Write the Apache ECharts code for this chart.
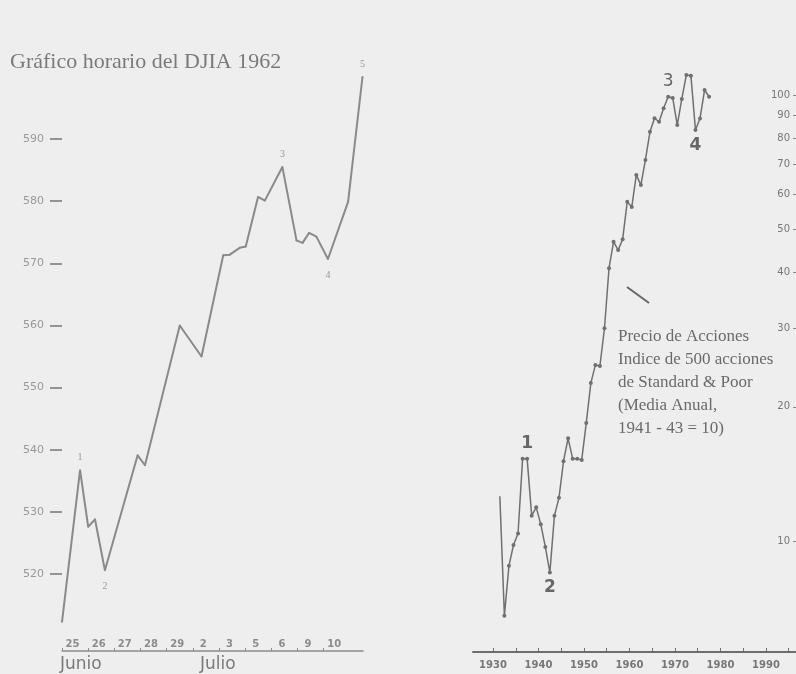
<!DOCTYPE html>
<html>
<head>
<meta charset="utf-8">
<script src="https://cdn.jsdelivr.net/npm/echarts@6/dist/echarts.min.js"></script>
<style>
  html, body { margin: 0; background: #eeeeee; }
  #chart { width: 796px; height: 674px; }
</style>
</head>
<body>
<div id="chart"></div>
<script>
// DJIA horario 1962: x en días de sesión desde el 25 de junio
const djiaX = [0, 0.69, 1.0, 1.26, 1.64, 2.89, 3.17, 4.5, 5.33, 6.16, 6.41, 6.79, 7.02, 7.49, 7.75, 8.42, 8.96, 9.19, 9.44, 9.72, 10.16, 10.93, 11.48];
const djiaY = [512.3, 536.7, 527.6, 528.8, 520.6, 539.1, 537.5, 560, 555, 571.3, 571.4, 572.5, 572.7, 580.7, 580.1, 585.5, 573.7, 573.3, 574.9, 574.3, 570.7, 579.9, 600];
const djiaWaves = { 1: '1', 4: '2', 15: '3', 20: '4', 22: '5' };
const dayLabels = ['25', '26', '27', '28', '29', '2', '3', '5', '6', '9', '10'];
const djiaTicks = [520, 530, 540, 550, 560, 570, 580, 590];

// S&P 500, media anual
const spYears = [1931, 1932, 1933, 1934, 1935, 1936, 1937, 1938, 1939, 1940, 1941, 1942, 1943, 1944, 1945, 1946, 1947, 1948, 1949, 1950, 1951, 1952, 1953, 1954, 1955, 1956, 1957, 1958, 1959, 1960, 1961, 1962, 1963, 1964, 1965, 1966, 1967, 1968, 1969, 1970, 1971, 1972, 1973, 1974, 1975, 1976, 1977];
const spValues = [12.6, 6.8, 8.8, 9.8, 10.4, 15.3, 15.3, 11.4, 11.9, 10.9, 9.7, 8.5, 11.4, 12.5, 15.1, 17.0, 15.3, 15.3, 15.2, 18.4, 22.6, 24.8, 24.7, 30.0, 40.9, 46.9, 44.9, 47.5, 57.6, 56.1, 66.2, 62.8, 71.5, 82.7, 88.7, 87.1, 93.4, 99.1, 98.5, 85.6, 98.0, 110.9, 110.5, 83.5, 88.6, 102.6, 99.1];
const spWaves = { 1937: '1', 1942: '2', 1968: '3', 1974: '4' };
const spTicksY = [10, 20, 30, 40, 50, 60, 70, 80, 90, 100];
const spTicksX = [1930, 1940, 1950, 1960, 1970, 1980, 1990];
const spMinorX = [1930, 1935, 1940, 1945, 1950, 1955, 1960, 1965, 1970, 1975, 1980, 1985, 1990, 1995];

const dayPos = dayLabels.map((d, i) => i + 0.4);

const chart = echarts.init(document.getElementById('chart'));

const djiaData = djiaX.map((x, i) => {
  const item = { value: [x, djiaY[i]] };
  if (djiaWaves[i]) {
    const up = ['1', '3', '5'].includes(djiaWaves[i]);
    item.label = {
      show: true, formatter: djiaWaves[i], position: up ? 'top' : 'bottom',
      distance: up ? 7 : 10, fontSize: 10, color: '#999', fontFamily: 'Liberation Serif'
    };
  }
  return item;
});

const spData = spYears.map((y, i) => {
  const item = { value: [y + 0.5, spValues[i]] };
  if (i === 0) item.symbol = 'none';
  if (spWaves[y]) {
    const up = spWaves[y] === '1' || spWaves[y] === '3';
    item.label = {
      show: true, formatter: spWaves[y], position: up ? 'top' : 'bottom',
      distance: 5, fontSize: 17, fontWeight: spWaves[y] === '3' ? 'normal' : 'bold',
      color: '#666', fontFamily: 'DejaVu Sans'
    };
  }
  return item;
});

const option = {
  backgroundColor: '#eeeeee',
  animation: false,
  grid: [
    { left: 62, top: 77, width: 301, height: 574 },
    { left: 473, top: 60, right: 0, height: 592 }
  ],
  xAxis: [
    {
      gridIndex: 0, type: 'value', min: 0, max: 11.5,
      splitLine: { show: false },
      axisLine: { lineStyle: { color: '#8c8c8c', width: 1.5 } },
      axisTick: { inside: true, length: 3, customValues: dayLabels.map((d, i) => i), lineStyle: { color: '#8c8c8c' } },
      axisLabel: {
        inside: true, margin: 2, customValues: dayPos,
        formatter: v => dayLabels[Math.round(v - 0.4)],
        fontSize: 10, fontWeight: 'bold', color: '#8c8c8c', fontFamily: 'DejaVu Sans'
      }
    },
    {
      gridIndex: 1, type: 'value', min: 1925.6, max: 1996.6,
      splitLine: { show: false },
      axisLine: { lineStyle: { color: '#6e6e6e', width: 2 } },
      axisTick: { inside: true, length: 4, customValues: spMinorX, lineStyle: { color: '#6e6e6e' } },
      axisLabel: {
        customValues: spTicksX, margin: 8, formatter: v => String(v),
        fontSize: 10, fontWeight: 'bold', color: '#777', fontFamily: 'DejaVu Sans'
      }
    }
  ],
  yAxis: [
    {
      gridIndex: 0, type: 'value', min: 507.6, max: 600,
      splitLine: { show: false },
      axisLine: { show: false },
      axisTick: { length: 12, customValues: djiaTicks, lineStyle: { color: '#777', width: 1.5 } },
      axisLabel: {
        customValues: djiaTicks, margin: 18,
        fontSize: 11, color: '#999', fontFamily: 'DejaVu Sans'
      }
    },
    {
      gridIndex: 1, type: 'log', logBase: 10, min: 5.64, max: 119.8, position: 'right',
      splitLine: { show: false },
      axisLine: { show: false },
      axisTick: { inside: true, length: 3, customValues: spTicksY, lineStyle: { color: '#888' } },
      axisLabel: {
        inside: true, margin: 6, customValues: spTicksY,
        fontSize: 10, color: '#777', fontFamily: 'DejaVu Sans'
      }
    }
  ],
  series: [
    {
      type: 'line', xAxisIndex: 0, yAxisIndex: 0, data: djiaData,
      symbol: 'circle', symbolSize: 2,
      itemStyle: { color: '#8a8a8a' },
      lineStyle: { color: '#8a8a8a', width: 2 }
    },
    {
      type: 'line', xAxisIndex: 1, yAxisIndex: 1, data: spData,
      symbol: 'circle', symbolSize: 4, clip: false,
      itemStyle: { color: '#707070' },
      lineStyle: { color: '#707070', width: 1.5 }
    }
  ],
  graphic: [
    {
      type: 'text', left: 10, top: 51,
      style: { text: 'Gráfico horario del DJIA 1962', fontSize: 22, fontFamily: 'Liberation Serif', fill: '#7a7a7a' }
    },
    {
      type: 'text', left: 60, top: 656,
      style: { text: 'Junio', fontSize: 17, fontFamily: 'DejaVu Sans', fill: '#7a7a7a' }
    },
    {
      type: 'text', left: 200, top: 656,
      style: { text: 'Julio', fontSize: 17, fontFamily: 'DejaVu Sans', fill: '#7a7a7a' }
    },
    {
      type: 'line', shape: { x1: 627, y1: 287, x2: 649, y2: 303 },
      style: { stroke: '#666', lineWidth: 2 }
    },
    {
      type: 'text', left: 618, top: 325,
      style: {
        text: 'Precio de Acciones\nIndice de 500 acciones\nde Standard & Poor\n(Media Anual,\n1941 - 43 = 10)',
        fontSize: 17, lineHeight: 23, fontFamily: 'Liberation Serif', fill: '#6a6a6a'
      }
    }
  ]
};

chart.setOption(option);
</script>
</body>
</html>
